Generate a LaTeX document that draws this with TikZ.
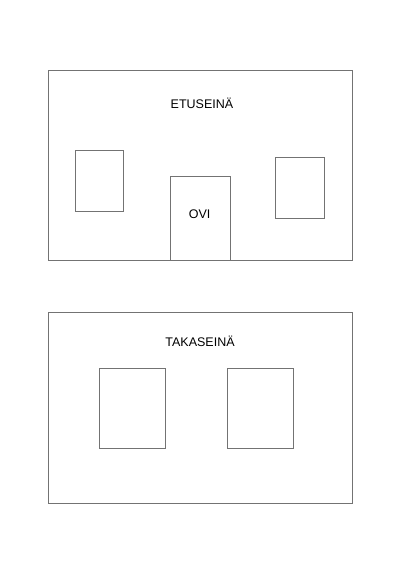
\documentclass[tikz,border=0pt]{standalone}
\usepackage{fontspec}
\setmainfont{Liberation Sans}
\begin{document}
\begin{tikzpicture}[x=1pt,y=-1pt,
  wall/.style={draw=black!55,line width=0.8pt,inner sep=0pt,anchor=north west},
  label/.style={font=\fontsize{12.5}{14}\selectfont,inner sep=0pt}]
\useasboundingbox[fill=white] (0,0) rectangle (400,566);
% front wall
\node[wall,minimum width=303.4pt,minimum height=190pt] (front) at (48.3,70) {};
\node[wall,minimum width=48pt,minimum height=61.3pt] (fw1) at (75,150) {};
\node[wall,minimum width=60.6pt,minimum height=84pt] (door) at (169.7,176) {};
\node[wall,minimum width=48.4pt,minimum height=61.3pt] (fw2) at (275.3,156.7) {};
\node[label] (etu) at (202,103.3) {ETUSEINÄ};
\node[label] (ovi) at (199.6,214.3) {OVI};
% back wall
\node[wall,minimum width=303.4pt,minimum height=190.4pt] (back) at (48.3,312.3) {};
\node[wall,minimum width=66.3pt,minimum height=79.7pt] (bw1) at (98.7,368) {};
\node[wall,minimum width=66pt,minimum height=79.7pt] (bw2) at (227.3,368) {};
\node[label] (taka) at (200,341) {TAKASEINÄ};
\end{tikzpicture}
\end{document}
